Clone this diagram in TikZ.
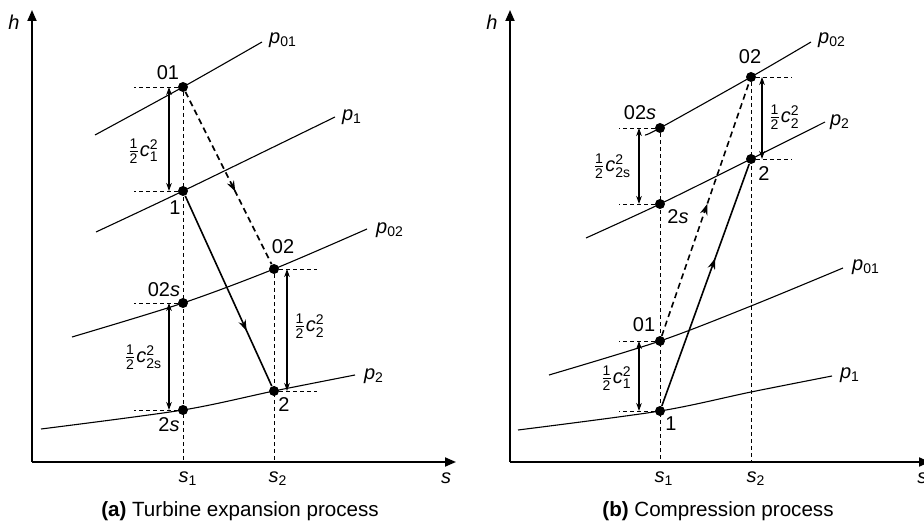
\documentclass[tikz,border=0pt]{standalone}
\usepackage{fontspec}
\setmainfont{Liberation Sans}
\usepackage{amsmath}
\usetikzlibrary{arrows.meta,decorations.markings,calc}
\tikzset{
  ax/.style={line width=0.9pt, -{Triangle[length=5.5pt,width=4.5pt]}},
  isobar/.style={line width=0.55pt},
  guide/.style={line width=0.45pt, dash pattern=on 2pt off 1.5pt},
  dimarrow/.style={line width=0.55pt, {Stealth[length=4pt,width=2.8pt]}-{Stealth[length=4pt,width=2.8pt]}},
  stpt/.style={circle, fill, inner sep=0pt, minimum size=5pt},
  lbl/.style={font=\fontsize{10}{12}\selectfont, inner sep=0pt},
  caplbl/.style={font=\fontsize{10.3}{12}\selectfont, inner sep=0pt},
  proc/.style={line width=0.8pt, postaction={decorate},
    decoration={markings, mark=at position #1 with {\arrow{Stealth[length=5.5pt,width=3.8pt]}}}},
  procdash/.style={proc=#1, dash pattern=on 3pt off 2pt},
}
\newcommand{\halfc}[2]{$\tfrac{\text{1}}{\text{2}}\text{\itshape c}^{\text{#1}}_{\text{#2}}$}
\begin{document}
\begin{tikzpicture}[x=0.5pt,y=-0.5pt]
\useasboundingbox (0,0) rectangle (924,522);

% ================= (a) Turbine =================
\coordinate (oa) at (32,462);
\coordinate (hta) at (32,10);
\coordinate (sta) at (456,462);
\draw[ax] (oa) -- (hta);
\draw[ax] (oa) -- (sta);
\node[lbl] (ha) at (14,22) {\itshape h};
\node[lbl] (sa) at (446,478) {\itshape s};

% isobars
\draw[isobar] plot[smooth] coordinates {(95,135) (183,87) (262,42)};
\draw[isobar] plot[smooth] coordinates {(96,232) (183,191) (335,117)};
\draw[isobar] plot[smooth] coordinates {(72,337) (183,303) (274,269) (367,229)};
\draw[isobar] plot[smooth] coordinates {(41,429) (183,410) (274,391) (355,375)};
\node[lbl] (pa01) at (283,40) {{\itshape p}\textsubscript{01}};
\node[lbl] (pa1) at (352,117) {{\itshape p}\textsubscript{1}};
\node[lbl] (pa02) at (390,230) {{\itshape p}\textsubscript{02}};
\node[lbl] (pa2) at (374,376) {{\itshape p}\textsubscript{2}};

% state points
\node[stpt] (a01) at (183,87) {};
\node[stpt] (a1) at (183,191) {};
\node[stpt] (a02s) at (183,303) {};
\node[stpt] (a2s) at (183,410) {};
\node[stpt] (a02) at (274,269) {};
\node[stpt] (a2) at (274,391) {};

% guides
\draw[guide] (a01) -- (a01 |- oa);
\draw[guide] (a02) -- (a02 |- oa);
\draw[guide] (a01) -- ++(-49,0);
\draw[guide] (a1) -- ++(-49,0);
\draw[guide] (a02s) -- ++(-49,0);
\draw[guide] (a2s) -- ++(-49,0);
\draw[guide] (a02) -- ++(43,0);
\draw[guide] (a2) -- ++(43,0);

% dimension arrows
\draw[dimarrow] ($(a01)+(-14,0)$) -- ($(a1)+(-14,0)$);
\draw[dimarrow] ($(a02s)+(-14,0)$) -- ($(a2s)+(-14,0)$);
\draw[dimarrow] ($(a02)+(13,0)$) -- ($(a2)+(13,0)$);
\node[lbl] (da1) at (143,151) {\halfc{2}{1}};
\node[lbl] (da2s) at (143,357) {\halfc{2}{2s}};
\node[lbl] (da2) at (309,326) {\halfc{2}{2}};

% processes
\draw[procdash=0.58] (a01) -- (a02);
\draw[proc=0.71] (a1) -- (a2);

% point labels
\node[lbl] (la01) at (168,73) {01};
\node[lbl] (la1) at (175,208) {1};
\node[lbl] (la02) at (283,247) {02};
\node[lbl] (la02s) at (164,290) {02{\itshape s}};
\node[lbl] (la2s) at (169,425) {2{\itshape s}};
\node[lbl] (la2) at (284,405) {2};
\node[lbl] (sa1) at (188,479) {{\itshape s}\textsubscript{1}};
\node[lbl] (sa2) at (278,479) {{\itshape s}\textsubscript{2}};
\node[caplbl] (capa) at (240,511) {\textbf{(a)} Turbine expansion process};

% ================= (b) Compression =================
\coordinate (ob) at (510,462);
\coordinate (htb) at (510,10);
\coordinate (stb) at (930,462);
\draw[ax] (ob) -- (htb);
\draw[ax] (ob) -- (stb);
\node[lbl] (hb) at (492,22) {\itshape h};
\node[lbl, anchor=west] (sb) at (917,478) {\itshape s};

\draw[isobar] plot[smooth] coordinates {(645,135) (660,128) (751,77) (811,42)};
\draw[isobar] plot[smooth] coordinates {(586,238) (660,204) (751,159) (825,122)};
\draw[isobar] plot[smooth] coordinates {(549,375) (660,341) (751,306) (843,268)};
\draw[isobar] plot[smooth] coordinates {(518,430) (660,411) (751,392) (832,376)};
\node[lbl] (pb02) at (832,40) {{\itshape p}\textsubscript{02}};
\node[lbl] (pb2) at (840,122) {{\itshape p}\textsubscript{2}};
\node[lbl] (pb01) at (866,267) {{\itshape p}\textsubscript{01}};
\node[lbl] (pb1) at (850,375) {{\itshape p}\textsubscript{1}};

\node[stpt] (b02) at (751,77) {};
\node[stpt] (b02s) at (660,128) {};
\node[stpt] (b2) at (751,159) {};
\node[stpt] (b2s) at (660,204) {};
\node[stpt] (b01) at (660,341) {};
\node[stpt] (b1) at (660,411) {};

\draw[guide] (b02s) -- (b02s |- ob);
\draw[guide] (b02) -- (b02 |- ob);
\draw[guide] (b02) -- ++(41,0);
\draw[guide] (b2) -- ++(41,0);
\draw[guide] (b02s) -- ++(-41,0);
\draw[guide] (b2s) -- ++(-41,0);
\draw[guide] (b01) -- ++(-41,0);
\draw[guide] (b1) -- ++(-41,0);

\draw[dimarrow] ($(b02)+(11,0)$) -- ($(b2)+(11,0)$);
\draw[dimarrow] ($(b02s)+(-21,0)$) -- ($(b2s)+(-21,0)$);
\draw[dimarrow] ($(b01)+(-21,0)$) -- ($(b1)+(-21,0)$);
\node[lbl] (db2) at (784,117) {\halfc{2}{2}};
\node[lbl] (db2s) at (612,166) {\halfc{2}{2s}};
\node[lbl] (db1) at (616,378) {\halfc{2}{1}};

\draw[procdash=0.52] (b01) -- (b02);
\draw[proc=0.61] (b1) -- (b2);

\node[lbl] (lb02) at (750,57) {02};
\node[lbl] (lb02s) at (640,113) {02{\itshape s}};
\node[lbl] (lb2) at (764,174) {2};
\node[lbl] (lb2s) at (678,217) {2{\itshape s}};
\node[lbl] (lb01) at (644,325) {01};
\node[lbl] (lb1) at (671,424) {1};
\node[lbl] (sb1) at (664,479) {{\itshape s}\textsubscript{1}};
\node[lbl] (sb2) at (756,479) {{\itshape s}\textsubscript{2}};
\node[caplbl] (capb) at (718,511) {\textbf{(b)} Compression process};
\end{tikzpicture}
\end{document}
